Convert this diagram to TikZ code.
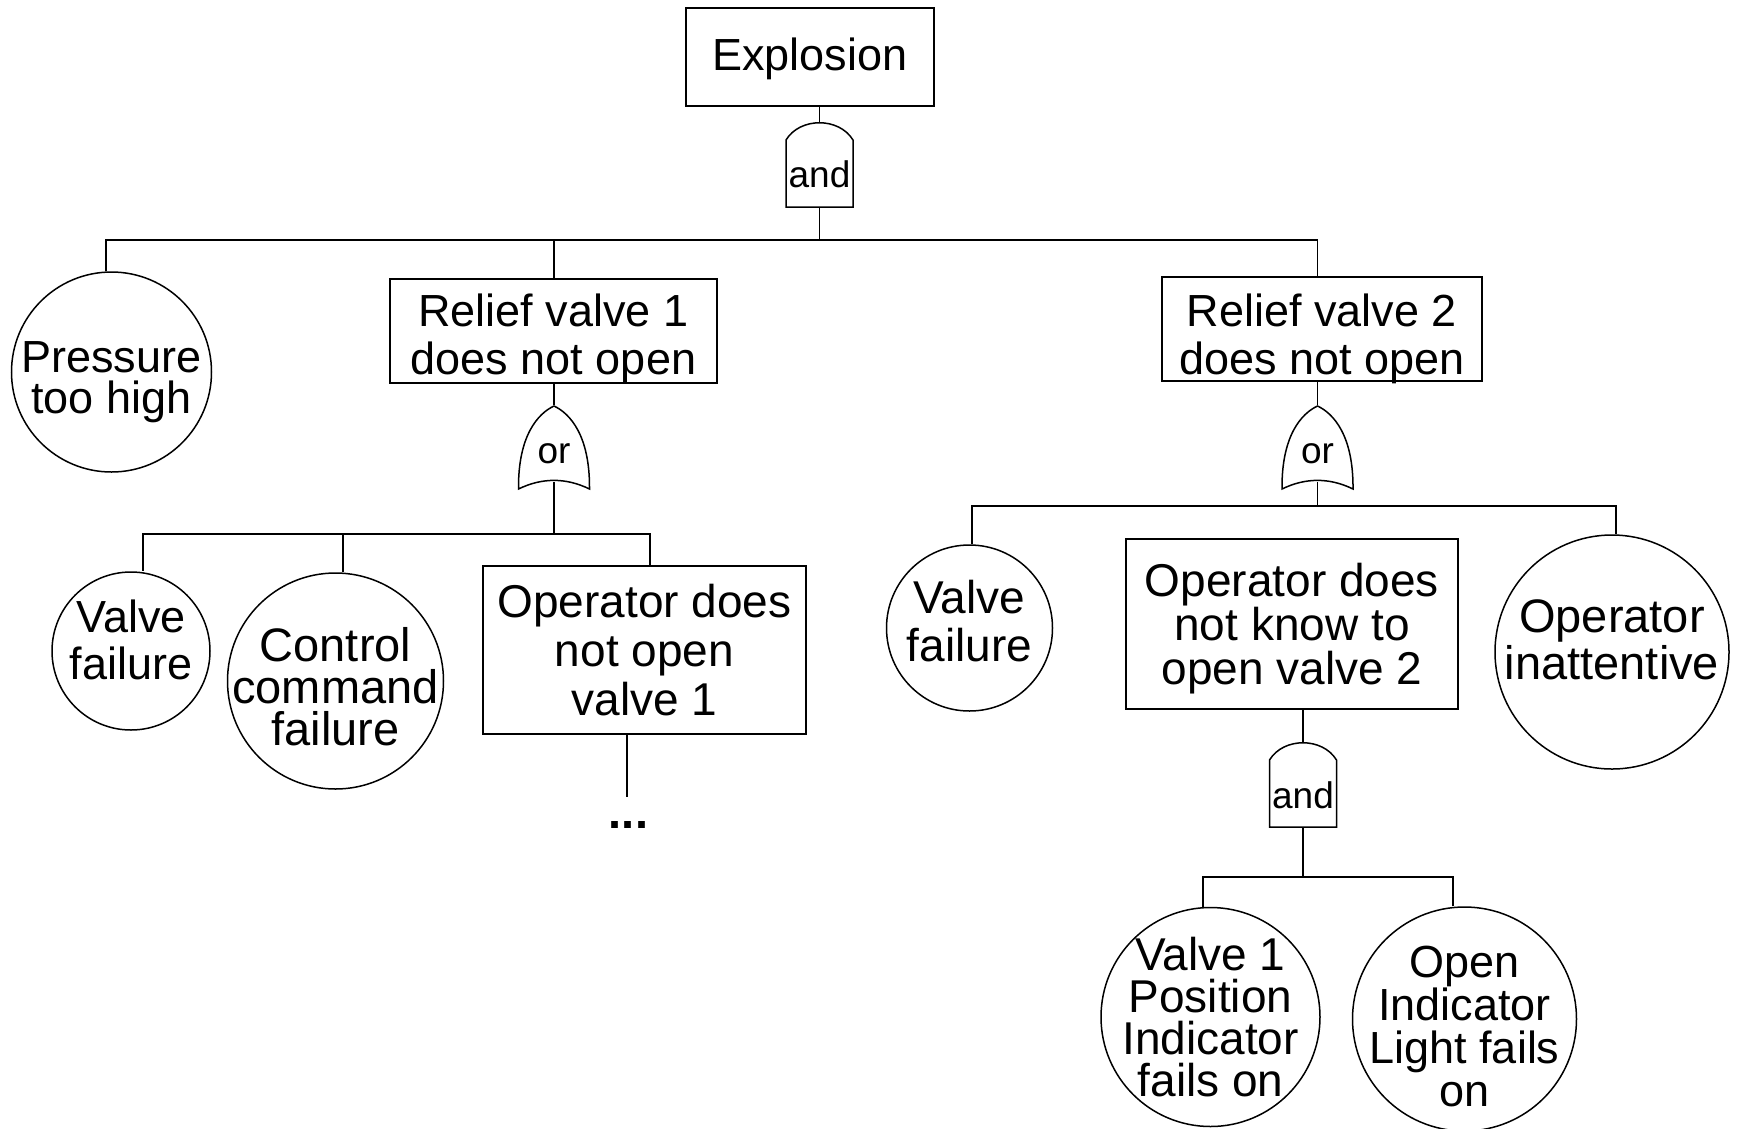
\documentclass[tikz,border=0pt]{standalone}
\usepackage{fontspec}
\setmainfont{Liberation Sans}
\usepackage{tikz}
\usetikzlibrary{positioning, calc}

\tikzset{
  event/.style={draw, rectangle, inner sep=0pt, align=center},
  basic/.style={draw, circle, inner sep=-30pt, align=center},
  gatelbl/.style={inner sep=0pt, text depth=0pt, font=\fontsize{37}{37}\selectfont},
  andgate/.pic={\draw (-33.5,42) -- (-33.5,-25) .. controls (-19.5,-48) and (19.5,-48) .. (33.5,-25) -- (33.5,42) -- cycle;},
  orgate/.pic={\draw (0,-41.5) .. controls (-16,-34) and (-36,-12) .. (-35.5,41.5) .. controls (-12,30) and (12,30) .. (35.5,41.5) .. controls (36,-12) and (16,-34) .. (0,-41.5) -- cycle;}
}

\begin{document}
\begin{tikzpicture}[x=1pt, y=-1pt, line width=1.5pt]
  \useasboundingbox[fill=white] (0,0) rectangle (1738,1128);

  % Top event and its gate
  \node[event, minimum width=248pt, minimum height=98pt, text height=37pt, font=\fontsize{45}{44}\selectfont] (explosion) at (810,57) {Explosion};
  \node[gatelbl, minimum width=67pt, minimum height=84pt, text height=45pt] (andtop) at (819.5,165) {and};
  \pic at (andtop) {andgate};
  \draw (explosion.south -| andtop.north) -- (andtop.north);

  % First level
  \node[basic, minimum size=200pt, text height=91.5pt, font=\fontsize{45}{41}\selectfont] (press) at (111.5,372) {Pressure\\too high};
  \node[event, minimum width=327pt, minimum height=104pt, text height=86pt, text depth=0pt, font=\fontsize{45}{48}\selectfont] (reliefone) at (553.5,331) {Relief valve 1\\does not open};
  \node[event, minimum width=320pt, minimum height=104pt, text height=91pt, text depth=0pt, font=\fontsize{45}{48}\selectfont] (relieftwo) at (1322,329) {Relief valve 2\\does not open};

  \node[gatelbl, minimum width=71pt, minimum height=83pt, text height=31pt] (orone) at (554,447.5) {or};
  \pic at (orone) {orgate};
  \node[gatelbl, minimum width=71pt, minimum height=83pt, text height=31pt] (ortwo) at (1317.5,447.5) {or};
  \pic at (ortwo) {orgate};

  \coordinate (topbar) at (0,240);
  \draw (andtop.south) -- (andtop.south |- topbar) -| ([xshift=-5.5pt]press.north);
  \draw (andtop.south |- topbar) -| (orone.north |- reliefone.north);
  \draw (andtop.south |- topbar) -| (ortwo.north |- relieftwo.north);
  \draw (reliefone.south -| orone.north) -- (orone.north);
  \draw (relieftwo.south -| ortwo.north) -- (ortwo.north);

  % Relief valve 1 branch
  \node[basic, minimum size=158pt, text height=57pt, font=\fontsize{45}{47}\selectfont] (vfailone) at (131,651) {Valve\\failure};
  \node[basic, minimum size=216pt, text height=130pt, font=\fontsize{47}{42}\selectfont] (control) at (335.5,681) {Control\\command\\failure};
  \node[event, minimum width=323pt, minimum height=168pt, font=\fontsize{46}{49}\selectfont] (opone) at (644.5,650) {Operator does\\not open\\valve 1};

  \coordinate (onebar) at (0,534);
  \draw ([yshift=8pt]orone.south) -- (orone.south |- onebar) -| ([xshift=12pt]vfailone.north);
  \draw (orone.south |- onebar) -| ([xshift=7.5pt]control.north);
  \draw (orone.south |- onebar) -| ([xshift=5.5pt]opone.north);

  \coordinate (cut) at (627,797);
  \draw (opone.south -| cut) -- (cut);
  \node[anchor=base, inner sep=0pt, font=\fontsize{47}{47}\selectfont\bfseries] (more) at (628.5,828) {...};

  % Relief valve 2 branch
  \node[basic, minimum size=166pt, text height=68pt, font=\fontsize{46}{48}\selectfont] (vfailtwo) at (969.5,628) {Valve\\failure};
  \node[event, minimum width=332pt, minimum height=170pt, text height=130.5pt, font=\fontsize{46}{44}\selectfont] (optwo) at (1292,624) {Operator does\\not know to\\open valve 2};
  \node[basic, minimum size=234pt, text height=55pt, font=\fontsize{47}{47}\selectfont] (inatt) at (1612,652) {Operator\\inattentive};

  \coordinate (twobar) at (0,506);
  \draw ([yshift=8pt]ortwo.south) -- (ortwo.south |- twobar) -| ([xshift=2.5pt]vfailtwo.north);
  \draw (ortwo.south |- twobar) -| ([xshift=4pt]inatt.north);

  \node[gatelbl, minimum width=68pt, minimum height=84pt, text height=46pt] (andlow) at (1303,785) {and};
  \pic at (andlow) {andgate};
  \draw (optwo.south -| andlow.north) -- (andlow.north);

  % Bottom level
  \node[basic, minimum size=219pt, font=\fontsize{46}{42}\selectfont] (posind) at (1210.5,1017) {Valve 1\\Position\\Indicator\\fails on};
  \node[basic, minimum size=224pt, text height=175pt, font=\fontsize{45}{43}\selectfont] (light) at (1464.5,1019) {Open\\Indicator\\Light fails\\on};

  \coordinate (lowbar) at (0,877);
  \draw (andlow.south) -- (andlow.south |- lowbar) -| ([xshift=-7.5pt]posind.north);
  \draw (andlow.south |- lowbar) -| ([xshift=-11.5pt]light.north);
\end{tikzpicture}
\end{document}
